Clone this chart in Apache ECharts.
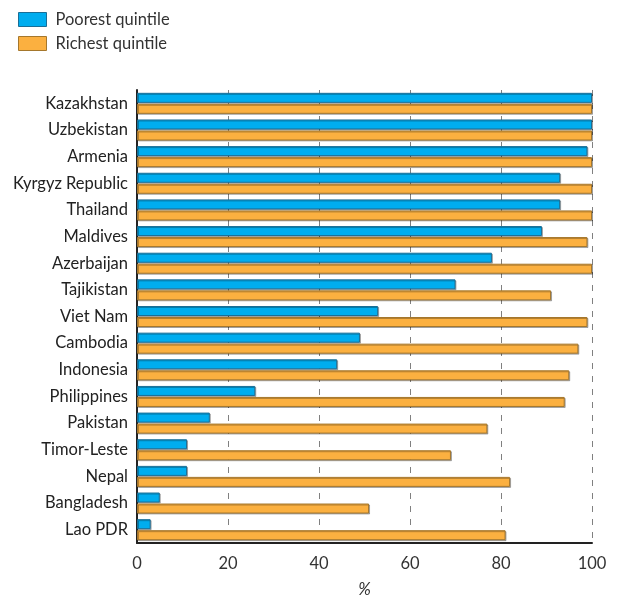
<!DOCTYPE html>
<html><head><meta charset="utf-8">
<script src="https://cdn.jsdelivr.net/npm/echarts@6/dist/echarts.min.js"></script>
<style>html,body{margin:0;padding:0;background:#fff}#c{width:622px;height:598px}</style>
</head><body><div id="c"></div>
<script>
const categories = ["Kazakhstan","Uzbekistan","Armenia","Kyrgyz Republic","Thailand","Maldives","Azerbaijan","Tajikistan","Viet Nam","Cambodia","Indonesia","Philippines","Pakistan","Timor-Leste","Nepal","Bangladesh","Lao PDR"];
const poorest = [100,100,99,93,93,89,78,70,53,49,44,26,16,11,11,5,3];
const richest = [100,100,100,100,100,99,100,91,99,97,95,94,77,69,82,51,81];
const xTicks = [0,20,40,60,80,100];
const seriesNames = ["Poorest quintile","Richest quintile"];

const font = "Lato";
const chart = echarts.init(document.getElementById('c'));
const shadow = {shadowColor:'rgba(0,0,0,0.28)', shadowOffsetX:1, shadowOffsetY:1, shadowBlur:0};
chart.setOption({
  animation:false,
  textStyle:{fontFamily:font},
  legend:{
    orient:'vertical', left:13, top:6, itemWidth:28, itemHeight:14, itemGap:7, icon:'rect',
    textStyle:{fontFamily:font, fontSize:16.5, color:'#333', padding:[0,0,0,4]},
    data:seriesNames.map(n=>({name:n, itemStyle:{borderWidth:1}}))
  },
  grid:{left:137, right:30, top:90, bottom:55, containLabel:false, outerBoundsMode:'none'},
  xAxis:{
    type:'value', min:0, max:100, interval:20,
    name:'%', nameLocation:'middle', nameGap:38,
    nameTextStyle:{fontFamily:font, fontSize:17, color:'#333', fontStyle:'italic'},
    axisLine:{show:true, lineStyle:{color:'#222', width:2}},
    axisTick:{show:false},
    axisLabel:{fontFamily:font, fontSize:16.5, color:'#333', margin:12,
      formatter:v=>xTicks.includes(v)?String(v):''},
    splitLine:{show:true, lineStyle:{color:'#808080', type:[6,7], width:1}}
  },
  yAxis:{
    type:'category', data:categories, inverse:true,
    axisLine:{show:true, lineStyle:{color:'#222', width:2}},
    axisTick:{show:false},
    axisLabel:{fontFamily:font, fontSize:16.5, color:'#222', margin:9},
    splitLine:{show:false}
  },
  series:[
    {name:seriesNames[0], type:'bar', data:poorest, barWidth:10, barGap:'10%',
     itemStyle:Object.assign({color:'#00ADEF', borderColor:'#1a6e96', borderWidth:1}, shadow)},
    {name:seriesNames[1], type:'bar', data:richest, barWidth:10, barGap:'10%',
     itemStyle:Object.assign({color:'#FBB040', borderColor:'#a5772c', borderWidth:1}, shadow)}
  ]
});
</script></body></html>
